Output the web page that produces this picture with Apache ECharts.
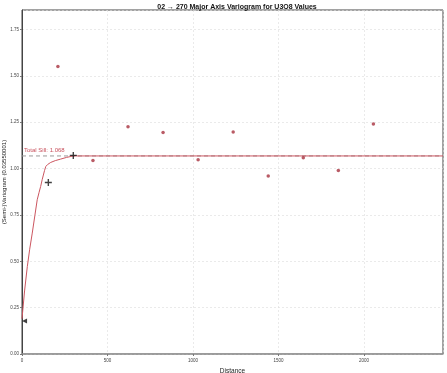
<!DOCTYPE html>
<html><head><meta charset="utf-8">
<script src="https://cdn.jsdelivr.net/npm/echarts@6/dist/echarts.min.js"></script>
<style>html,body{margin:0;padding:0;background:#fff}#c{width:447px;height:373px}</style>
</head><body><div id="c"></div>
<script>
const titleText = "02 \u2192 270 Major Axis Variogram for U3O8 Values";
const xName = "Distance";
const yName = "(Semi-)Variogram (0.03550001)";
const totalSill = 1.068;
const sillLabel = "Total Sill: 1.068";
// experimental variogram points [lag, gamma]
const expLags = [210, 415, 620, 825, 1030, 1235, 1440, 1645, 1850, 2055];
const expGamma = [1.55, 1.044, 1.226, 1.195, 1.048, 1.197, 0.960, 1.058, 0.990, 1.240];
// model curve
const modelX = [0, 15, 31, 45, 60, 75, 89, 100, 109, 118, 125, 132, 139, 150, 168, 195, 226, 260, 300, 2462];
const modelY = [0.19, 0.34, 0.471, 0.565, 0.652, 0.745, 0.832, 0.872, 0.903, 0.94, 0.965, 0.99, 1.011, 1.022, 1.033, 1.043, 1.051, 1.060, 1.068, 1.068];
// black plus markers
const plusX = [154, 300];
const plusY = [0.925, 1.071];
// nugget triangle marker
const triX = [15];
const triY = [0.178];
const xMax = 2462, yMax = 1.855;

const zip = (a, b) => a.map((v, i) => [v, b[i]]);
const plusPath = 'path://M4,0H6V4H10V6H6V10H4V6H0V4H4Z';

const chart = echarts.init(document.getElementById('c'), null, {renderer: 'canvas'});
chart.setOption({
  animation: false,
  backgroundColor: '#fff',
  title: {text: titleText, left: 232, top: -1, textAlign: 'center',
    textStyle: {fontSize: 7, fontWeight: 'bold', color: '#111', fontFamily: 'Liberation Sans'}},
  grid: {left: 22, right: 4, top: 10, bottom: 19, show: true, borderColor: '#444', borderWidth: 1,
    containLabel: false, outerBoundsMode: 'none'},
  xAxis: {type: 'value', min: 0, max: xMax, interval: 500,
    name: xName, nameLocation: 'middle', nameGap: 10,
    nameTextStyle: {fontSize: 6.5, color: '#222', fontFamily: 'Liberation Sans'},
    axisLine: {lineStyle: {color: '#999', width: 1.5}},
    axisTick: {show: true, length: 2, lineStyle: {color: '#777'}},
    axisLabel: {fontSize: 4.5, color: '#444', margin: 4, showMaxLabel: false,
      formatter: v => String(v), fontFamily: 'Liberation Sans'},
    splitLine: {show: true, lineStyle: {color: '#ddd', type: [2, 2], width: 0.6}}},
  yAxis: {type: 'value', min: 0, max: yMax, interval: 0.25,
    name: yName, nameLocation: 'middle', nameGap: 15, nameRotate: 90, nameMoveOverlap: false,
    nameTextStyle: {fontSize: 6, color: '#222', fontFamily: 'Liberation Sans'},
    axisLine: {show: true, lineStyle: {color: '#444', width: 1}},
    axisTick: {show: true, length: 2, lineStyle: {color: '#777'}},
    axisLabel: {fontSize: 4.5, color: '#444', margin: 3, showMaxLabel: false,
      formatter: v => v.toFixed(2), fontFamily: 'Liberation Sans'},
    splitLine: {show: true, lineStyle: {color: '#ddd', type: [2, 2], width: 0.6}}},
  series: [
    {type: 'line', data: [[0, totalSill], [xMax, totalSill]], symbol: 'none', z: 1,
      lineStyle: {color: '#999', width: 1, type: [4, 3]},
      markLine: {silent: true, symbol: 'none', lineStyle: {color: 'rgba(0,0,0,0)', width: 0},
        label: {show: true, position: 'insideStartTop', formatter: sillLabel, fontSize: 6,
          color: '#c8505c', distance: 2, fontFamily: 'Liberation Sans'},
        data: [{yAxis: totalSill}]}},
    {type: 'line', data: zip(modelX, modelY), symbol: 'none', smooth: false, z: 2,
      lineStyle: {color: '#cc5660', width: 1}},
    {type: 'scatter', data: zip(expLags, expGamma), symbol: 'circle', symbolSize: 3.5, z: 3,
      itemStyle: {color: '#a8323f'}},
    {type: 'scatter', data: zip(plusX, plusY), symbol: plusPath, symbolSize: 7, z: 4,
      itemStyle: {color: '#111'}},
    {type: 'scatter', data: zip(triX, triY), symbol: 'triangle', symbolRotate: 90, symbolSize: 5, z: 4,
      itemStyle: {color: '#111'}}
  ]
});
</script></body></html>
